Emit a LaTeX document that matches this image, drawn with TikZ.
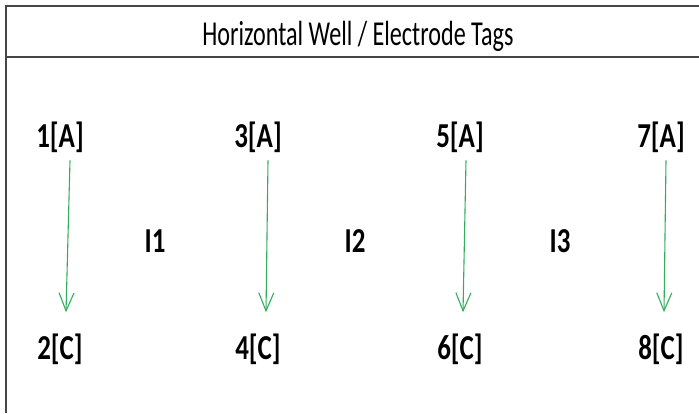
\documentclass[tikz,border=0pt]{standalone}
\usepackage{fontspec}
\setmainfont{Carlito}
\usetikzlibrary{arrows.meta}
\definecolor{wellgreen}{RGB}{50,172,95}
\definecolor{framegray}{RGB}{70,70,70}
\newcommand{\narrow}[2]{\scalebox{#1}[1]{#2}}

\begin{document}
\begin{tikzpicture}[x=1pt, y=-1pt,
		tag/.style={font=\bfseries\fontsize{35}{35}\selectfont, inner sep=0pt, anchor=base},
		flow/.style={draw=wellgreen, line width=1.1pt, -{Straight Barb[length=18pt,width=15pt,line width=1.1pt]}}]
		%%%%% START %%%%%
		
		\useasboundingbox (0, 0) rectangle (699, 413);
		
		\draw[line width=2pt, color=framegray] (699, 6) -- (6, 6) -- (6, 413);
		\draw[line width=2pt, color=framegray] (6, 57) -- (699, 57);
		
		\node[font=\fontsize{35}{35}\selectfont, inner sep=0pt, anchor=base] (title) at (358, 45) {\narrow{0.69}{Horizontal Well / Electrode Tags}};
		
		\node[tag] (a1) at (60, 147) {\narrow{0.77}{1[A]}};
		\node[tag] (c2) at (60, 359) {\narrow{0.77}{2[C]}};
		\node[tag] (a3) at (258, 147) {\narrow{0.77}{3[A]}};
		\node[tag] (c4) at (258, 359) {\narrow{0.77}{4[C]}};
		\node[tag] (a5) at (460, 147) {\narrow{0.77}{5[A]}};
		\node[tag] (c6) at (460, 359) {\narrow{0.77}{6[C]}};
		\node[tag] (a7) at (661, 147) {\narrow{0.77}{7[A]}};
		\node[tag] (c8) at (661, 359) {\narrow{0.77}{8[C]}};
		
		\node[tag] (i1) at (155, 252) {\narrow{0.77}{I1}};
		\node[tag] (i2) at (355, 252) {\narrow{0.77}{I2}};
		\node[tag] (i3) at (560, 252) {\narrow{0.77}{I3}};
		
		\draw[flow] ([shift={(10, 8)}]a1.south) -- ([shift={(6, -21)}]c2.north);
		\draw[flow] ([shift={(10, 8)}]a3.south) -- ([shift={(8, -21)}]c4.north);
		\draw[flow] ([shift={(6, 8)}]a5.south) -- ([shift={(3, -21)}]c6.north);
		\draw[flow] ([shift={(5, 8)}]a7.south) -- ([shift={(3, -21)}]c8.north);
		
		%%%%% END %%%%%
\end{tikzpicture}
\end{document}
